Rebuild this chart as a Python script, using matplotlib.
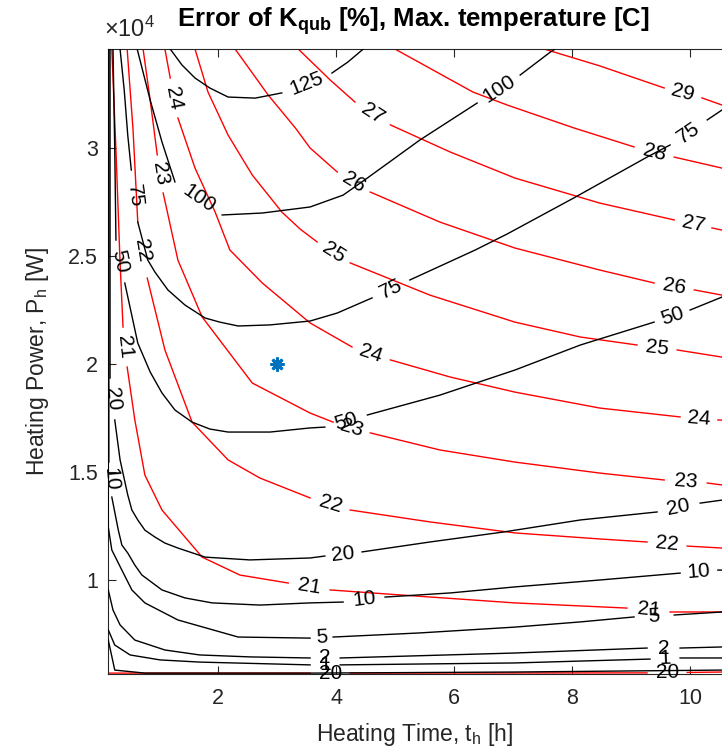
import numpy as np
import matplotlib
matplotlib.use('Agg')
import matplotlib.pyplot as plt

plt.rcParams['font.family'] = ['Liberation Sans', 'DejaVu Sans']
plt.rcParams['mathtext.fontset'] = 'custom'
plt.rcParams['mathtext.rm'] = 'Liberation Sans'
plt.rcParams['mathtext.it'] = 'Liberation Sans'
plt.rcParams['mathtext.bf'] = 'Liberation Sans:bold'

nan = np.nan

# Temperatura maxima [C] (linhas vermelhas), nan = corte do rotulo
t_r20 = [0.13, 0.97, 3.56, nan, 4.24, 9.27, nan, 9.95, 10.54]
p_r20 = [5690, 5690, 5690, nan, 5690, 5700, nan, 5720, 5740]
t_r21 = [0.20, 0.27, 0.34, 0.39, nan, 0.46, 0.59, 0.76, 1.05, 1.73, 2.37, 3.19, nan, 3.90, 5.08, 7.03, 8.93, nan, 9.66, 10.54]
p_r21 = [34580, 29910, 24680, 21710, nan, 19860, 17410, 14860, 13240, 11060, 10230, 9860, nan, 9540, 9310, 8940, 8700, nan, 8520, 8520]
t_r22 = [0.46, 0.56, 0.64, nan, 0.80, 1.10, 1.56, 2.17, 2.71, 3.56, nan, 4.24, 5.59, 7.03, 8.47, 9.27, nan, 9.95, 10.54]
p_r22 = [34580, 30830, 26570, nan, 23980, 20650, 17310, 15560, 14720, 13800, nan, 13240, 12690, 12180, 11900, 11760, nan, 11570, 11480]
t_r23 = [0.73, 0.85, 0.97, nan, 1.07, 1.32, 1.73, 2.58, 3.56, 3.95, nan, 4.58, 5.76, 7.03, 8.47, 9.56, nan, 10.29, 10.54]
p_r23 = [34580, 32220, 29680, nan, 27920, 24810, 22180, 19120, 17730, 17310, nan, 16810, 16020, 15460, 14950, 14630, nan, 14490, 14400]
t_r24 = [1.10, 1.19, nan, 1.32, 1.61, 1.95, 2.20, 2.75, 3.56, 4.27, nan, 4.92, 5.93, 7.03, 8.47, 9.83, nan, 10.47, 10.54]
p_r24 = [34580, 33240, nan, 31390, 29070, 27040, 25280, 23750, 21900, 20790, nan, 20190, 19400, 18700, 17960, 17550, nan, 17410, 17400]
t_r25 = [1.61, 1.83, 2.17, 2.58, 3.08, 3.39, 3.68, nan, 4.24, 5.59, 7.03, 8.14, 9.10, nan, 9.78, 10.54]
p_r25 = [34580, 32590, 30600, 28750, 27040, 26250, 25650, nan, 24680, 23190, 21940, 21250, 20880, nan, 20650, 20320]
t_r26 = [2.29, 2.85, 3.31, 3.56, 4.02, nan, 4.58, 5.76, 7.03, 8.47, 9.39, nan, 10.07, 10.54]
p_r26 = [34580, 32450, 30930, 30000, 28890, nan, 27960, 26570, 25370, 24350, 23750, nan, 23430, 23190]
t_r27 = [3.36, 3.90, 4.32, nan, 4.92, 5.93, 7.03, 8.47, 9.73, nan, 10.37, 10.54]
p_r27 = [34580, 33150, 32130, nan, 31070, 29820, 28610, 27450, 26670, nan, 26300, 26200]
t_r28 = [5.00, 6.32, 6.90, 8.03, 9.05, nan, 9.73, 10.54]
p_r28 = [34580, 32590, 31990, 30930, 30050, nan, 29580, 29070]
t_r29 = [7.53, 8.47, 9.56, nan, 10.20, 10.54]
p_r29 = [34580, 33800, 32780, nan, 32320, 31990]

# Erro de K_qub [%] (linhas pretas)
t_b05 = [0.14, 0.25, 0.76, 3.56, 7.03, 10.54]
p_b05 = [7220, 5830, 5690, 5690, 5740, 5830]
t_b1 = [0.14, 0.25, 0.51, 1.02, 1.69, 3.56, nan, 4.07, 7.03, 9.32, nan, 9.83, 10.54]
p_b1 = [7690, 6990, 6530, 6300, 6200, 6070, nan, 6070, 6160, 6340, nan, 6390, 6390]
t_b2 = [0.14, 0.22, 0.34, 0.59, 1.10, 1.69, 2.54, 3.56, nan, 4.07, 7.03, 9.27, nan, 9.83, 10.54]
p_b2 = [9540, 8610, 7920, 7220, 6760, 6530, 6440, 6390, nan, 6390, 6620, 6850, nan, 6850, 6900]
t_b5 = [0.14, 0.14, 0.20, 0.37, 0.54, 0.76, 1.32, 2.34, 3.56, nan, 3.95, 5.42, 7.03, 8.14, 9.05, nan, 9.73, 10.54]
p_b5 = [34580, 12450, 11390, 10460, 9540, 8940, 8150, 7360, 7310, nan, 7360, 7550, 7820, 8060, 8290, nan, 8380, 8520]
t_b10 = [0.15, 0.15, 0.15, nan, 0.20, 0.31, 0.37, 0.47, 0.59, 0.71, 1.05, 1.44, 1.90, 2.71, 3.56, 4.12, nan, 4.83, 5.93, 7.03, 8.47, 9.83, nan, 10.47, 10.54]
p_b10 = [34580, 22960, 15460, nan, 13840, 12310, 11620, 11250, 10690, 10230, 9540, 9170, 8940, 8840, 8940, 8980, nan, 9210, 9400, 9680, 10000, 10320, nan, 10460, 10460]
t_b20 = [0.17, 0.17, 0.17, nan, 0.25, 0.34, 0.47, 0.54, 0.64, 0.76, 0.93, 1.10, 1.32, 1.78, 2.54, 3.56, 3.81, nan, 4.44, 5.59, 6.83, 8.14, 9.44, nan, 10.17, 10.54]
p_b20 = [34580, 27590, 19350, nan, 17410, 15560, 13940, 13240, 12780, 12310, 11990, 11710, 11480, 11060, 10930, 11020, 11110, nan, 11300, 11760, 12220, 12780, 13150, nan, 13560, 13700]
t_b50 = [0.22, 0.25, 0.27, nan, 0.42, 0.64, 0.85, 1.05, 1.27, 1.56, 1.86, 2.17, 2.88, 3.56, 3.81, nan, 4.53, 5.76, 7.03, 8.14, 9.39, nan, 10.00, 10.54]
p_b50 = [34580, 29910, 25740, nan, 23750, 20970, 19630, 18660, 17870, 17310, 16990, 16850, 16850, 17040, 17080, nan, 17640, 18560, 19720, 20880, 21940, nan, 22500, 23100]
t_b75 = [0.34, 0.41, 0.47, 0.53, nan, 0.64, 0.81, 0.93, 1.15, 1.44, 1.78, 2.03, 2.34, 2.88, 3.56, 4.02, 4.61, nan, 5.25, 6.36, 6.90, 8.03, 9.27, 9.66, nan, 10.29, 10.54]
p_b75 = [34580, 32690, 30600, 28980, nan, 26570, 24810, 24260, 23430, 22730, 22130, 21940, 21760, 21810, 21990, 22360, 23060, nan, 23890, 25280, 26020, 27690, 29580, 30140, nan, 31300, 31760]
t_b100 = [0.63, 0.85, 1.05, 1.27, nan, 2.07, 2.75, 3.56, 4.12, 4.53, 5.42, 6.39, nan, 7.12, 7.63, 7.71]
p_b100 = [34580, 32220, 30280, 28430, nan, 26900, 26990, 27270, 27820, 28610, 30370, 32080, nan, 33380, 34440, 34580]
t_b125 = [1.19, 1.39, 1.61, 1.86, 2.17, 2.63, 3.08, nan, 3.93, 4.20, 4.46]
p_b125 = [34580, 33840, 33240, 32780, 32360, 32310, 32550, nan, 33470, 33980, 34580]

# ponto de operacao
ponto_t = [3.0]
ponto_p = [20000]

linhas_vermelhas = [(20, t_r20, p_r20), (21, t_r21, p_r21), (22, t_r22, p_r22),
                    (23, t_r23, p_r23), (24, t_r24, p_r24), (25, t_r25, p_r25),
                    (26, t_r26, p_r26), (27, t_r27, p_r27), (28, t_r28, p_r28),
                    (29, t_r29, p_r29)]
linhas_pretas = [(0.5, t_b05, p_b05), (1, t_b1, p_b1), (2, t_b2, p_b2), (5, t_b5, p_b5),
                 (10, t_b10, p_b10), (20, t_b20, p_b20), (50, t_b50, p_b50),
                 (75, t_b75, p_b75), (100, t_b100, p_b100), (125, t_b125, p_b125)]

cinza = (0.15, 0.15, 0.15)

fig = plt.figure(figsize=(7.22, 7.53), dpi=100)
ax = fig.add_axes([0.1489, 0.1049, 0.8511, 0.8300])
ax.set_xlim(0.127, 10.54)
ax.set_ylim(5648, 34583)


def rotulos(ax, nivel, t, p):
    t = np.asarray(t, float)
    p = np.asarray(p, float)
    for i in np.where(np.isnan(t))[0]:
        a = ax.transData.transform((t[i - 1], p[i - 1]))
        b = ax.transData.transform((t[i + 1], p[i + 1]))
        ang = np.degrees(np.arctan2(b[1] - a[1], b[0] - a[0]))
        if ang >= 90:
            ang -= 180
        if ang < -90:
            ang += 180
        ax.text((t[i - 1] + t[i + 1]) / 2, (p[i - 1] + p[i + 1]) / 2, f'{nivel:g}',
                rotation=ang, rotation_mode='anchor', ha='center', va='center',
                fontsize=15, color='k', clip_on=False, zorder=5)


for nivel, t, p in linhas_vermelhas:
    ax.plot(t, p, color='red', lw=1.0, zorder=2)
    rotulos(ax, nivel, t, p)

for nivel, t, p in linhas_pretas:
    ax.plot(t, p, color='k', lw=1.0, zorder=3)
    rotulos(ax, nivel, t, p)

ax.plot(ponto_t, ponto_p, ls='none', marker=(8, 2, 0), ms=10, mew=2,
        color=(0, 0.447, 0.741), zorder=6)

ax.set_xticks([2, 4, 6, 8, 10])
ax.set_yticks([10000, 15000, 20000, 25000, 30000])
ax.set_yticklabels(['1', '1.5', '2', '2.5', '3'])
ax.tick_params(direction='in', top=True, right=False, length=6, width=0.8,
               labelsize=15.5, colors=cinza)
ax.tick_params(axis='x', pad=10)
ax.tick_params(axis='y', pad=7)
for lado in ['left', 'bottom', 'top']:
    ax.spines[lado].set_color(cinza)
    ax.spines[lado].set_linewidth(0.8)
ax.spines['right'].set_visible(False)

ax.text(-0.005, 1.012, r'$\times10^{4}$', transform=ax.transAxes, ha='left',
        va='bottom', fontsize=17, color=cinza)
fig.text(413 / 722, 1 - 21 / 753, r'Error of K$_{\mathbf{qub}}$ [%], Max. temperature [C]',
         ha='center', va='center', fontsize=18.5, fontweight='bold')
ax.set_xlabel(r'Heating Time, t$_\mathregular{h}$ [h]', fontsize=16.5, color=cinza, labelpad=9)
ax.set_ylabel(r'Heating Power, P$_\mathregular{h}$ [W]', fontsize=16.5, color=cinza, labelpad=12)

fig.savefig('out.png', dpi=100)
